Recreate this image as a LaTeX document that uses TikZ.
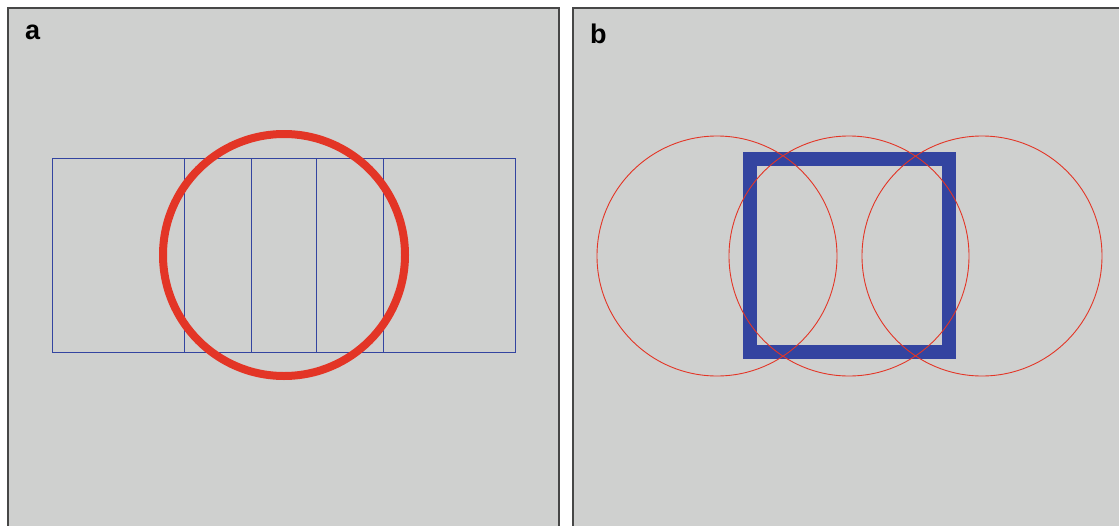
\documentclass[tikz,border=0pt]{standalone}
\usepackage{fontspec}
\setmainfont{Liberation Sans}
\usetikzlibrary{positioning}

\definecolor{panelgray}{HTML}{CFD0CF}
\definecolor{ringred}{HTML}{E33526}
\definecolor{boxblue}{HTML}{3344A0}

\begin{document}
\begin{tikzpicture}[
    x=1pt, y=-1pt,
    panel/.style={
        draw=black!72,
        line width=1.5pt,
        fill=panelgray
    },
    strip/.style={
        draw=boxblue,
        line width=1pt
    },
    ring/.style={
        draw=ringred,
        line width=8pt
    },
    thin_ring/.style={
        draw=ringred,
        line width=0.9pt
    },
    thick_box/.style={
        draw=boxblue,
        line width=14pt
    },
    tag/.style={
        font=\bfseries\fontsize{27}{27}\selectfont,
        inner sep=0pt,
        anchor=base west
    }
]
    \useasboundingbox (0,0) rectangle (1119,525);

    % PANELS
    \path[panel] (8,8) rectangle (559,532);
    \path[panel] (573,8) rectangle (1126,532);
    \node[tag] (tag_a) at (25,39) {a};
    \node[tag] (tag_b) at (590,43) {b};

    % PANEL A: strips under one thick ring
    \draw[strip] (52,158) rectangle (515,352);
    \foreach \x in {184, 251, 316, 383}
        \draw[strip] (\x,158) -- (\x,352);
    \draw[ring] (284,255) circle[radius=121pt];

    % PANEL B: thick square under three thin rings
    \draw[thick_box] (750,159) rectangle (949,352);
    \foreach \x in {717, 849, 982}
        \draw[thin_ring] (\x,256) circle[radius=120pt];

\end{tikzpicture}
\end{document}
